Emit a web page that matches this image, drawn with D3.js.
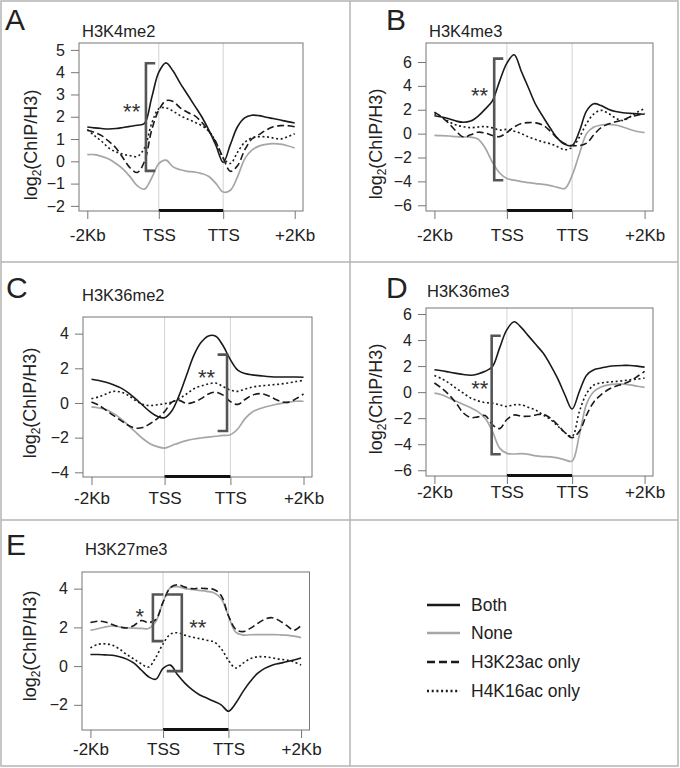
<!DOCTYPE html>
<html>
<head>
<meta charset="utf-8">
<script src="https://cdn.jsdelivr.net/npm/d3@7"></script>
<style>
  body { margin: 0; background: #fff; }
  svg { display: block; font-family: "Liberation Sans", Arial, sans-serif; }
</style>
</head>
<body>
<svg id="fig" width="680" height="768"></svg>
<script>
// Metagene position: 0 = -2Kb, 1 = TSS, 1.9 = TTS, 2.9 = +2Kb
// (the gene body is drawn a bit shorter than the flanks, as in the figure)
const x_positions = [0.0, 0.1, 0.2, 0.3, 0.4, 0.5, 0.6, 0.7, 0.8, 0.9,
  1.0, 1.1, 1.2, 1.3, 1.4, 1.5, 1.6, 1.7, 1.8, 1.9,
  2.0, 2.1, 2.2, 2.3, 2.4, 2.5, 2.6, 2.7, 2.8, 2.9];
const x_tick_values = [0, 1, 1.9, 2.9];
const x_tick_labels = ["-2Kb", "TSS", "TTS", "+2Kb"];
const series_names = ["Both", "None", "H3K23ac only", "H4K16ac only"];

// log2(ChIP/H3)
const h3k4me2_both = [1.54, 1.5, 1.47, 1.45, 1.47, 1.52, 1.57, 1.62, 1.7, 2.85, 4.0, 4.42, 4.05, 3.5, 3.0, 2.5, 2.0, 1.4, 0.7, -0.05, 0.75, 1.55, 1.95, 2.07, 2.05, 1.98, 1.92, 1.85, 1.78, 1.72];
const h3k4me2_none = [0.3, 0.3, 0.22, 0.1, -0.1, -0.35, -0.7, -1.1, -1.25, -0.75, -0.1, 0.05, -0.25, -0.38, -0.45, -0.48, -0.55, -0.68, -1.0, -1.38, -1.3, -0.7, 0.1, 0.5, 0.68, 0.76, 0.79, 0.77, 0.7, 0.6];
const h3k4me2_k23 = [1.39, 1.3, 1.15, 0.9, 0.6, 0.15, -0.3, -0.5, 0.0, 1.4, 2.3, 2.72, 2.68, 2.4, 2.2, 2.05, 1.75, 1.35, 0.85, 0.15, -0.45, -0.2, 0.5, 1.0, 1.2, 1.4, 1.55, 1.6, 1.6, 1.55];
const h3k4me2_k16 = [1.42, 1.15, 0.9, 0.6, 0.42, 0.32, 0.25, 0.22, 0.6, 1.7, 2.36, 2.4, 2.25, 2.05, 1.9, 1.76, 1.6, 1.35, 0.85, 0.15, -0.1, 0.4, 0.85, 1.05, 1.1, 1.1, 1.05, 1.0, 1.1, 1.24];

const h3k4me3_both = [1.5, 1.4, 1.25, 1.05, 0.95, 1.05, 1.45, 2.05, 2.75, 4.4, 5.9, 6.6, 5.2, 3.8, 2.4, 1.4, 0.45, -0.4, -0.9, -1.0, 0.2, 1.9, 2.5, 2.35, 2.05, 1.85, 1.75, 1.7, 1.67, 1.62];
const h3k4me3_none = [-0.15, -0.17, -0.2, -0.25, -0.28, -0.3, -0.45, -1.2, -2.4, -3.3, -3.75, -3.9, -4.02, -4.1, -4.18, -4.25, -4.35, -4.5, -4.6, -3.5, -1.7, 0.0, 0.55, 0.72, 0.78, 0.72, 0.56, 0.35, 0.18, 0.08];
const h3k4me3_k23 = [1.8, 1.4, 0.85, 0.2, -0.28, -0.1, 0.12, 0.05, -0.15, -0.25, 0.1, 0.55, 0.85, 0.92, 0.9, 0.7, 0.2, -0.4, -0.85, -1.0, -1.0, -0.8, -0.1, 0.5, 0.8, 1.0, 1.15, 1.4, 1.55, 1.7];
const h3k4me3_k16 = [1.67, 1.4, 1.0, 0.72, 0.58, 0.5, 0.55, 0.6, 0.48, 0.3, 0.35, 0.2, 0.0, -0.28, -0.5, -0.7, -0.85, -1.1, -1.35, -1.15, -0.3, 0.85, 1.65, 1.95, 1.7, 1.3, 1.1, 1.4, 1.8, 2.1];

const h3k36me2_both = [1.37, 1.3, 1.2, 1.05, 0.87, 0.6, 0.25, -0.13, -0.5, -0.77, -0.85, -0.45, 0.45, 1.6, 2.75, 3.5, 3.87, 3.85, 3.3, 2.5, 1.9, 1.7, 1.62, 1.58, 1.53, 1.5, 1.5, 1.5, 1.5, 1.48];
const h3k36me2_none = [-0.23, -0.29, -0.38, -0.6, -0.9, -1.28, -1.67, -2.05, -2.35, -2.52, -2.6, -2.45, -2.3, -2.17, -2.08, -2.02, -1.97, -1.92, -1.87, -1.83, -1.5, -0.9, -0.52, -0.33, -0.2, -0.1, -0.02, 0.05, 0.1, 0.1];
const h3k36me2_k23 = [0.06, -0.13, -0.42, -0.72, -1.0, -1.28, -1.45, -1.42, -1.2, -0.9, -0.5, 0.05, 0.15, -0.03, 0.05, 0.25, 0.52, 0.62, 0.45, 0.08, -0.08, 0.2, 0.45, 0.54, 0.45, 0.25, 0.07, 0.05, 0.25, 0.52];
const h3k36me2_k16 = [0.25, 0.35, 0.52, 0.67, 0.63, 0.45, 0.15, -0.08, -0.15, -0.1, -0.04, 0.06, 0.25, 0.52, 0.82, 0.98, 1.1, 1.15, 0.95, 0.75, 0.67, 0.8, 0.92, 0.98, 1.02, 1.06, 1.1, 1.16, 1.24, 1.3];

const h3k36me3_both = [1.72, 1.64, 1.54, 1.44, 1.35, 1.3, 1.4, 1.6, 1.95, 3.4, 4.8, 5.4, 4.95, 4.3, 3.65, 3.0, 2.1, 1.05, -0.2, -1.3, 0.05, 1.3, 1.72, 1.85, 1.97, 2.03, 2.05, 2.05, 2.0, 1.92];
const h3k36me3_none = [-0.08, -0.2, -0.45, -0.7, -0.95, -1.2, -1.5, -2.0, -3.0, -4.3, -4.7, -4.75, -4.72, -4.78, -4.9, -4.95, -4.97, -5.05, -5.2, -5.3, -3.3, -0.9, 0.05, 0.4, 0.56, 0.62, 0.62, 0.56, 0.45, 0.36];
const h3k36me3_k23 = [0.7, 0.3, -0.2, -0.85, -1.6, -1.95, -1.9, -1.8, -2.5, -2.8, -2.1, -1.75, -1.85, -1.85, -1.75, -1.7, -2.0, -2.5, -3.1, -3.5, -3.0, -1.75, -0.75, -0.2, 0.2, 0.45, 0.62, 0.85, 1.2, 1.6];
const h3k36me3_k16 = [1.28, 1.03, 0.7, 0.3, -0.08, -0.45, -0.67, -0.8, -0.85, -0.97, -1.1, -0.97, -0.98, -1.18, -1.38, -1.75, -2.1, -2.6, -3.1, -3.4, -1.5, -0.1, 0.55, 0.7, 0.77, 0.82, 0.87, 0.95, 1.0, 1.08];

const h3k27me3_both = [0.6, 0.6, 0.58, 0.56, 0.48, 0.36, 0.15, -0.2, -0.55, -0.68, -0.12, 0.05, -0.45, -0.88, -1.22, -1.48, -1.65, -1.82, -2.0, -2.33, -1.92, -1.32, -0.8, -0.38, -0.12, 0.05, 0.14, 0.22, 0.31, 0.42];
const h3k27me3_none = [1.85, 1.93, 2.02, 2.07, 2.03, 1.98, 1.96, 1.95, 1.94, 2.3, 3.3, 4.05, 4.1, 4.0, 3.96, 3.91, 3.86, 3.79, 3.48, 2.6, 1.75, 1.6, 1.62, 1.63, 1.63, 1.63, 1.62, 1.6, 1.55, 1.47];
const h3k27me3_k23 = [2.25, 2.32, 2.28, 2.15, 2.03, 1.97, 2.1, 2.35, 2.25, 2.4, 3.3, 4.05, 4.2, 4.08, 4.0, 4.02, 4.0, 3.96, 3.65, 2.6, 1.9, 1.78, 1.95, 2.2, 2.42, 2.5, 2.35, 2.1, 1.85, 2.1];
const h3k27me3_k16 = [0.94, 1.12, 1.15, 1.08, 0.88, 0.6, 0.36, 0.12, -0.05, 0.45, 1.15, 1.65, 1.72, 1.6, 1.5, 1.42, 1.34, 1.25, 0.9, 0.3, -0.1, 0.15, 0.38, 0.48, 0.48, 0.43, 0.36, 0.31, 0.22, 0.05];

// y ticks and the visible y range of each panel
const y_ticks = {
  A: [-2, -1, 0, 1, 2, 3, 4, 5],
  B: [-6, -4, -2, 0, 2, 4, 6],
  C: [-4, -2, 0, 2, 4],
  D: [-6, -4, -2, 0, 2, 4, 6],
  E: [-2, 0, 2, 4]
};
const y_limits = {A: [-2.23, 5.31], B: [-6.48, 7.59], C: [-4.27, 4.96], D: [-6.44, 6.46], E: [-3.3, 4.86]};

// significance brackets (data coords): vertical at x, serifs reach to x_end
const brackets = [
  {panel: "A", x: 0.82, x_end: 0.95, y0: -0.43, y1: 4.4},
  {panel: "B", x: 0.825, x_end: 0.95, y0: -3.91, y1: 6.28},
  {panel: "C", x: 1.854, x_end: 1.725, y0: -1.62, y1: 2.79},
  {panel: "D", x: 0.79, x_end: 0.915, y0: -4.77, y1: 4.33},
  {panel: "E", x: 0.86, x_end: 1.005, y0: 1.29, y1: 3.7},
  {panel: "E", x: 1.258, x_end: 1.05, y0: -0.26, y1: 3.7}
];
const stars = [
  {panel: "A", text: "**", x: 0.74, y: 2.45, anchor: "end"},
  {panel: "B", text: "**", x: 0.74, y: 3.63, anchor: "end"},
  {panel: "C", text: "**", x: 1.69, y: 1.75, anchor: "end"},
  {panel: "D", text: "**", x: 0.745, y: 0.69, anchor: "end"},
  {panel: "E", text: "*", x: 0.74, y: 2.8, anchor: "end"},
  {panel: "E", text: "**", x: 1.36, y: 2.25, anchor: "start"}
];

const panels = [
  {id: "A", mark: "H3K4me2", series: [h3k4me2_both, h3k4me2_none, h3k4me2_k23, h3k4me2_k16]},
  {id: "B", mark: "H3K4me3", series: [h3k4me3_both, h3k4me3_none, h3k4me3_k23, h3k4me3_k16]},
  {id: "C", mark: "H3K36me2", series: [h3k36me2_both, h3k36me2_none, h3k36me2_k23, h3k36me2_k16]},
  {id: "D", mark: "H3K36me3", series: [h3k36me3_both, h3k36me3_none, h3k36me3_k23, h3k36me3_k16]},
  {id: "E", mark: "H3K27me3", series: [h3k27me3_both, h3k27me3_none, h3k27me3_k23, h3k27me3_k16]}
];

// page layout, in pixels
const layout = {
  A: {box: [79, 43, 303, 211], letter: [5, 30], title: [82, 37], ylab: [31, 145], xlab_dy: 30},
  B: {box: [426, 43, 653, 211], letter: [386, 30], title: [429, 37], ylab: [376, 144], xlab_dy: 30},
  C: {box: [83, 317, 312, 477], letter: [6, 298], title: [82, 301], ylab: [30, 403], xlab_dy: 27},
  D: {box: [426, 308, 653, 476], letter: [386, 298], title: [427, 297], ylab: [376, 399], xlab_dy: 22},
  E: {box: [82, 572, 309.5, 730], letter: [6, 555], title: [85, 555], ylab: [30, 646], xlab_dy: 25}
};
const font = {tick_x: 17, tick_y: 16, ylab: 18, title: 16.5, letter: 30, legend: 17.5};
const series_styles = [
  {color: "#1a1a1a", width: 1.6, dash: null},
  {color: "#a6a6a6", width: 1.7, dash: null},
  {color: "#1a1a1a", width: 1.6, dash: "7,3.5"},
  {color: "#1a1a1a", width: 1.6, dash: "2,2.6"}
];
const draw_order = [1, 0, 2, 3];

const svg = d3.select("#fig");

// panel frames
const frame = svg.append("g").attr("stroke", "#b4b4b4").attr("stroke-width", 1.5).attr("fill", "none");
frame.append("rect").attr("x", 1).attr("y", 1).attr("width", 677).attr("height", 765);
frame.append("line").attr("x1", 350).attr("x2", 350).attr("y1", 1).attr("y2", 766);
frame.append("line").attr("x1", 1).attr("x2", 678).attr("y1", 262).attr("y2", 262);
frame.append("line").attr("x1", 1).attr("x2", 678).attr("y1", 520).attr("y2", 520);

const draw_panel = (panel) => {
  const lay = layout[panel.id];
  const [left, top, right, bottom] = lay.box;
  const x = d3.scaleLinear().domain([-0.116, 3.016]).range([left, right]);
  const y = d3.scaleLinear().domain(y_limits[panel.id]).range([bottom, top]);
  const g = svg.append("g");

  // TSS / TTS guides
  g.selectAll("line.guide").data([1, 1.9]).enter().append("line")
    .attr("x1", d => x(d)).attr("x2", d => x(d))
    .attr("y1", top).attr("y2", bottom)
    .attr("stroke", "#d2d2d2").attr("stroke-width", 1);

  const line = d3.line()
    .x((d, i) => x(x_positions[i]))
    .y(d => y(d))
    .curve(d3.curveCatmullRom.alpha(0.5));
  for (const k of draw_order) {
    const st = series_styles[k];
    g.append("path").datum(panel.series[k])
      .attr("d", line)
      .attr("fill", "none")
      .attr("stroke", st.color)
      .attr("stroke-width", st.width)
      .attr("stroke-dasharray", st.dash);
  }

  // plot box
  g.append("rect").attr("x", left).attr("y", top)
    .attr("width", right - left).attr("height", bottom - top)
    .attr("fill", "none").attr("stroke", "#777").attr("stroke-width", 1);

  // gene body bar
  g.append("line")
    .attr("x1", x(1)).attr("x2", x(1.9))
    .attr("y1", bottom - 0.5).attr("y2", bottom - 0.5)
    .attr("stroke", "#111").attr("stroke-width", 3.2);

  // axes
  const xa = g.append("g").attr("transform", `translate(0,${bottom})`)
    .call(d3.axisBottom(x).tickValues(x_tick_values)
      .tickFormat((d, i) => x_tick_labels[i])
      .tickSize(8).tickPadding(lay.xlab_dy - 8 - 0.71 * font.tick_x));
  xa.select(".domain").remove();
  xa.attr("color", "#777").attr("font-size", font.tick_x).attr("font-family", null);
  xa.selectAll("text").attr("fill", "#222");

  const ya = g.append("g").attr("transform", `translate(${left},0)`)
    .call(d3.axisLeft(y).tickValues(y_ticks[panel.id]).tickSize(8).tickPadding(6));
  ya.select(".domain").remove();
  ya.attr("color", "#777").attr("font-size", font.tick_y).attr("font-family", null);
  ya.selectAll("text").attr("fill", "#222");

  // y label with subscript
  const yl = g.append("text")
    .attr("transform", `translate(${lay.ylab[0]},${lay.ylab[1]}) rotate(-90)`)
    .attr("text-anchor", "middle").attr("dy", "0.35em")
    .attr("font-size", font.ylab).attr("fill", "#222");
  yl.append("tspan").text("log");
  yl.append("tspan").text("2").attr("font-size", 12).attr("dy", 4);
  yl.append("tspan").text("(ChIP/H3)").attr("dy", -4);

  // panel letter and histone mark
  g.append("text").attr("x", lay.letter[0]).attr("y", lay.letter[1])
    .attr("font-size", font.letter).attr("fill", "#222").text(panel.id);
  g.append("text").attr("x", lay.title[0]).attr("y", lay.title[1])
    .attr("font-size", font.title).attr("fill", "#222").text(panel.mark);

  // brackets
  brackets.filter(b => b.panel == panel.id).forEach(b => {
    g.append("path")
      .attr("d", `M${x(b.x_end)},${y(b.y1)}H${x(b.x)}V${y(b.y0)}H${x(b.x_end)}`)
      .attr("fill", "none").attr("stroke", "#555").attr("stroke-width", 2.6);
  });
  stars.filter(s => s.panel == panel.id).forEach(s => {
    g.append("text").attr("x", x(s.x)).attr("y", y(s.y) + 12.5)
      .attr("text-anchor", s.anchor).attr("font-size", 22).attr("fill", "#333")
      .text(s.text);
  });
};

panels.forEach(draw_panel);

// legend
const legend_y = [605, 633, 662, 691];
const legend = svg.append("g");
series_names.forEach((name, i) => {
  const st = series_styles[i];
  legend.append("line")
    .attr("x1", 427).attr("x2", 460).attr("y1", legend_y[i]).attr("y2", legend_y[i])
    .attr("stroke", st.color).attr("stroke-width", 2.6)
    .attr("stroke-dasharray", st.dash ? (i == 2 ? "8,4" : "2,2.7") : null);
  legend.append("text").attr("x", 471).attr("y", legend_y[i] + 6)
    .attr("font-size", font.legend).attr("fill", "#222").text(name);
});
</script>
</body>
</html>
